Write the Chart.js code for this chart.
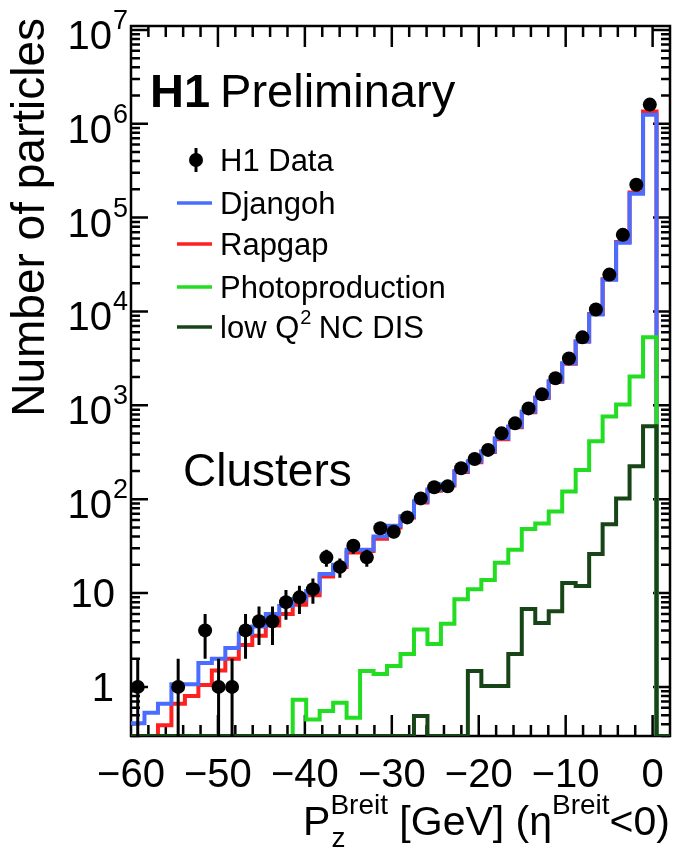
<!DOCTYPE html>
<html>
<head>
<meta charset="utf-8">
<title>H1 Preliminary - Clusters, Pz(Breit)</title>
<script src="https://cdn.jsdelivr.net/npm/chart.js@4.4.1/dist/chart.umd.min.js"></script>
<style>
  html, body { margin: 0; padding: 0; background: #fff; }
  canvas { display: block; }
</style>
</head>
<body>
<canvas id="pzChart" width="677" height="856"></canvas>
<script>
// binning of the histograms: 40 bins from -60 to 2 GeV
var BIN_LO = -60, BIN_W = 1.55, N_BINS = 40;

// H1 data (null = empty bin) and its errors
var h1Data = [1, null, null, 1, null, 4, 1, 1, 4, 5,
              5, 8, 9, 11, 24, 19, 32, 24, 49, 45,
              64, 102, 134, 137, 214, 268, 335, 503, 643, 927,
              1310, 1940, 3160, 5300, 10500, 24700, 65500, 224000, 1600000, null];
var h1Err = [1, 0, 0, 1, 0, 2, 1, 1, 2, 2.2,
             2.2, 2.8, 3, 3.3, 4.9, 4.4, 5.7, 4.9, 7, 6.7,
             8, 10, 11.6, 11.7, 14.6, 16.4, 18.3, 22.4, 25.4, 30,
             36, 44, 56, 73, 102, 157, 256, 473, 1265, 0];

// MC predictions (0.3 = empty / at the axis floor)
var djangoh = [0.41, 0.53, 0.66, 1.07, 1.07, 1.8, 2.0, 2.6, 3.7, 4.4,
               6.0, 7.3, 8.6, 10.5, 16, 20, 29, 29, 40, 52,
               66, 95, 127, 144, 200, 253, 324, 445, 595, 860,
               1210, 1800, 2800, 4800, 9300, 21800, 54000, 180000, 1250000, 0.3];
var rapgap = [0.3, 0.3, 0.39, 0.66, 0.8, 1.05, 1.5, 2.0, 2.8, 3.5,
              4.5, 6.0, 7.5, 9.5, 15, 19, 27, 28, 38, 50,
              64, 92, 123, 140, 195, 248, 318, 435, 585, 845,
              1195, 1780, 2780, 4800, 9400, 22000, 55000, 185000, 1350000, 0.3];
var photoprod = [0.3, 0.3, 0.3, 0.3, 0.3, 0.3, 0.3, 0.3, 0.3, 0.3,
                 0.3, 0.3, 0.73, 0.45, 0.555, 0.68, 0.47, 1.48, 1.37, 1.67,
                 2.24, 4.1, 2.87, 4.7, 8.6, 11, 13.8, 21, 29, 48,
                 55, 74, 121, 205, 415, 760, 1020, 2030, 5300, 0.3];
var lowQ2 = [0.3, 0.3, 0.3, 0.3, 0.3, 0.3, 0.3, 0.3, 0.3, 0.3,
             0.3, 0.3, 0.3, 0.3, 0.3, 0.3, 0.3, 0.3, 0.3, 0.3,
             0.3, 0.49, 0.3, 0.3, 0.3, 1.48, 1.02, 1.02, 2.24, 6.75,
             4.8, 6.4, 12.8, 11.9, 26, 54, 102, 225, 600, 0.3];

// axis labels
var xTickValues = [-60, -50, -40, -30, -20, -10, 0];
var yDecades = [0, 1, 2, 3, 4, 5, 6, 7];

var FONT = "'Liberation Sans', Arial, Helvetica, sans-serif";

function binEdge(i) { return BIN_LO + i * BIN_W; }

// step outline: one point per lower bin edge, plus the last upper edge
function stepPoints(values) {
  var pts = values.map(function(v, i) { return { x: binEdge(i), y: v }; });
  pts.push({ x: binEdge(N_BINS), y: values[N_BINS - 1] });
  return pts;
}

function histo(label, values, color) {
  return {
    type: 'line',
    label: label,
    data: stepPoints(values),
    borderColor: color,
    borderWidth: 4,
    stepped: true,
    pointRadius: 0,
    fill: false,
    tension: 0,
    borderJoinStyle: 'miter',
    borderCapStyle: 'butt'
  };
}

var dataPoints = h1Data.map(function(v, i) {
  return { x: binEdge(i) + BIN_W / 2, y: v };
});

// frame with inward ticks on all four sides
var framePlugin = {
  id: 'frame',
  beforeDatasetsDraw: function(chart) {
    var ctx = chart.ctx, ca = chart.chartArea;
    var xs = chart.scales.x, ys = chart.scales.y;
    ctx.save();
    ctx.strokeStyle = '#000';
    ctx.lineWidth = 2.5;
    ctx.strokeRect(ca.left, ca.top, ca.right - ca.left, ca.bottom - ca.top);
    ctx.beginPath();
    for (var v = -58; v < 2; v += 2) {
      var px = xs.getPixelForValue(v);
      var len = (v % 10 === 0) ? 21 : 11;
      ctx.moveTo(px, ca.bottom); ctx.lineTo(px, ca.bottom - len);
      ctx.moveTo(px, ca.top); ctx.lineTo(px, ca.top + len);
    }
    for (var d = -1; d <= 7; d++) {
      for (var m = 1; m <= 9; m++) {
        var val = m * Math.pow(10, d);
        if (val <= ys.min || val >= ys.max) continue;
        var py = ys.getPixelForValue(val);
        var l = (m === 1) ? 17 : 9;
        ctx.moveTo(ca.left, py); ctx.lineTo(ca.left + l, py);
        ctx.moveTo(ca.right, py); ctx.lineTo(ca.right - l, py);
      }
    }
    ctx.stroke();
    ctx.restore();
  }
};

// vertical error bars on the data points
var errorBarPlugin = {
  id: 'errorBars',
  afterDatasetsDraw: function(chart) {
    var ctx = chart.ctx, ca = chart.chartArea;
    var xs = chart.scales.x, ys = chart.scales.y;
    ctx.save();
    ctx.strokeStyle = '#000';
    ctx.lineWidth = 3;
    ctx.beginPath();
    h1Data.forEach(function(v, i) {
      if (v === null || !h1Err[i]) return;
      var px = xs.getPixelForValue(binEdge(i) + BIN_W / 2);
      var hi = ys.getPixelForValue(v + h1Err[i]);
      var lo = (v - h1Err[i] > 0) ? ys.getPixelForValue(v - h1Err[i]) : ca.bottom;
      ctx.moveTo(px, Math.max(hi, ca.top));
      ctx.lineTo(px, Math.min(lo, ca.bottom));
    });
    ctx.stroke();
    ctx.restore();
  }
};

function text(ctx, s, x, y, size, align, weight) {
  ctx.font = (weight || 'normal') + ' ' + size + 'px ' + FONT;
  ctx.textAlign = align || 'left';
  ctx.textBaseline = 'alphabetic';
  ctx.fillText(s, x, y);
  return ctx.measureText(s).width;
}

// axis labels, titles, text and the legend
var labelPlugin = {
  id: 'labels',
  afterDraw: function(chart) {
    var ctx = chart.ctx, ca = chart.chartArea;
    var xs = chart.scales.x, ys = chart.scales.y;
    ctx.save();
    ctx.fillStyle = '#000';

    // y tick labels
    yDecades.forEach(function(d) {
      var py = ys.getPixelForValue(Math.pow(10, d));
      if (d === 0) {
        text(ctx, '1', 114, py + 14, 40, 'right');
      } else if (d === 1) {
        text(ctx, '10', 115, py + 14, 40, 'right');
      } else {
        text(ctx, '10', 112, py + 19, 40, 'right');
        text(ctx, String(d), 113, py - 1, 27, 'left');
      }
    });

    // x tick labels
    xTickValues.forEach(function(v) {
      var px = xs.getPixelForValue(v);
      var s = v < 0 ? '\u2212' + Math.abs(v) : String(v);
      text(ctx, s, px, 787, 40, 'center');
    });

    // y title
    ctx.save();
    ctx.translate(44, 18);
    ctx.rotate(-Math.PI / 2);
    text(ctx, 'Number of particles', 0, 0, 46, 'right');
    ctx.restore();

    // x title: P_z^Breit [GeV] (eta^Breit<0)
    var big = 41, small = 28, base = 835;
    ctx.font = big + 'px ' + FONT;
    var wP = ctx.measureText('P').width;
    var wMid = ctx.measureText(' [GeV] (\u03b7').width;
    var wEnd = ctx.measureText('<0)').width;
    ctx.font = small + 'px ' + FONT;
    var wSup = ctx.measureText('Breit').width;
    var x = 670 - (wP + wSup + wMid + wSup + wEnd);
    x += text(ctx, 'P', x, base, big);
    text(ctx, 'z', x + 1, base + 12, small);
    text(ctx, 'Breit', x, base - 21, small);
    x += wSup;
    x += text(ctx, ' [GeV] (\u03b7', x, base, big);
    text(ctx, 'Breit', x, base - 21, small);
    x += wSup;
    text(ctx, '<0)', x, base, big);

    // labels inside the frame
    var wH1 = text(ctx, 'H1', 150, 107, 47, 'left', 'bold');
    text(ctx, 'Preliminary', 150 + wH1 + 10, 107, 47);
    text(ctx, 'Clusters', 183, 486, 46);

    // legend
    var rows = [0, 3, 4, 2, 1];
    var rowY = [160, 203, 244, 287, 327];
    rows.forEach(function(di, r) {
      var ds = chart.data.datasets[di];
      var y = rowY[r];
      if (di === 0) {
        ctx.strokeStyle = '#000';
        ctx.lineWidth = 3;
        ctx.beginPath();
        ctx.moveTo(196, y - 12); ctx.lineTo(196, y + 12);
        ctx.stroke();
        ctx.beginPath();
        ctx.arc(196, y, 7, 0, Math.PI * 2);
        ctx.fill();
      } else {
        ctx.strokeStyle = ds.borderColor;
        ctx.lineWidth = 3.5;
        ctx.beginPath();
        ctx.moveTo(177, y); ctx.lineTo(212, y);
        ctx.stroke();
      }
      ctx.fillStyle = '#000';
      if (di === 1) {
        var lx = 220;
        lx += text(ctx, 'low Q', lx, y + 11, 31);
        text(ctx, '2', lx + 1, y - 3, 20);
        text(ctx, ' NC DIS', lx + 11, y + 11, 31);
      } else {
        text(ctx, ds.label, 220, y + 11, 31);
      }
    });

    ctx.restore();
  }
};

var chart = new Chart(document.getElementById('pzChart'), {
  data: {
    datasets: [
      {
        type: 'scatter',
        label: 'H1 Data',
        data: dataPoints,
        showLine: false,
        pointRadius: 7,
        pointBackgroundColor: '#000',
        pointBorderWidth: 0
      },
      histo('low Q\u00b2 NC DIS', lowQ2, '#174517'),
      histo('Photoproduction', photoprod, '#22dd22'),
      histo('Djangoh', djangoh, '#4a6cff'),
      histo('Rapgap', rapgap, '#ff2020')
    ]
  },
  options: {
    responsive: false,
    animation: false,
    events: [],
    layout: { padding: { left: 0, right: 4, top: 26, bottom: 0 } },
    scales: {
      x: {
        type: 'linear', min: -60, max: 2,
        grid: { display: false }, border: { display: false },
        ticks: { display: false },
        afterFit: function(s) { s.height = 120; }
      },
      y: {
        type: 'logarithmic', min: 0.3, max: 1.1e7,
        grid: { display: false }, border: { display: false },
        ticks: { display: false },
        afterFit: function(s) { s.width = 131; }
      }
    },
    plugins: {
      legend: { display: false },
      tooltip: { enabled: false }
    }
  },
  plugins: [framePlugin, errorBarPlugin, labelPlugin]
});
</script>
</body>
</html>
